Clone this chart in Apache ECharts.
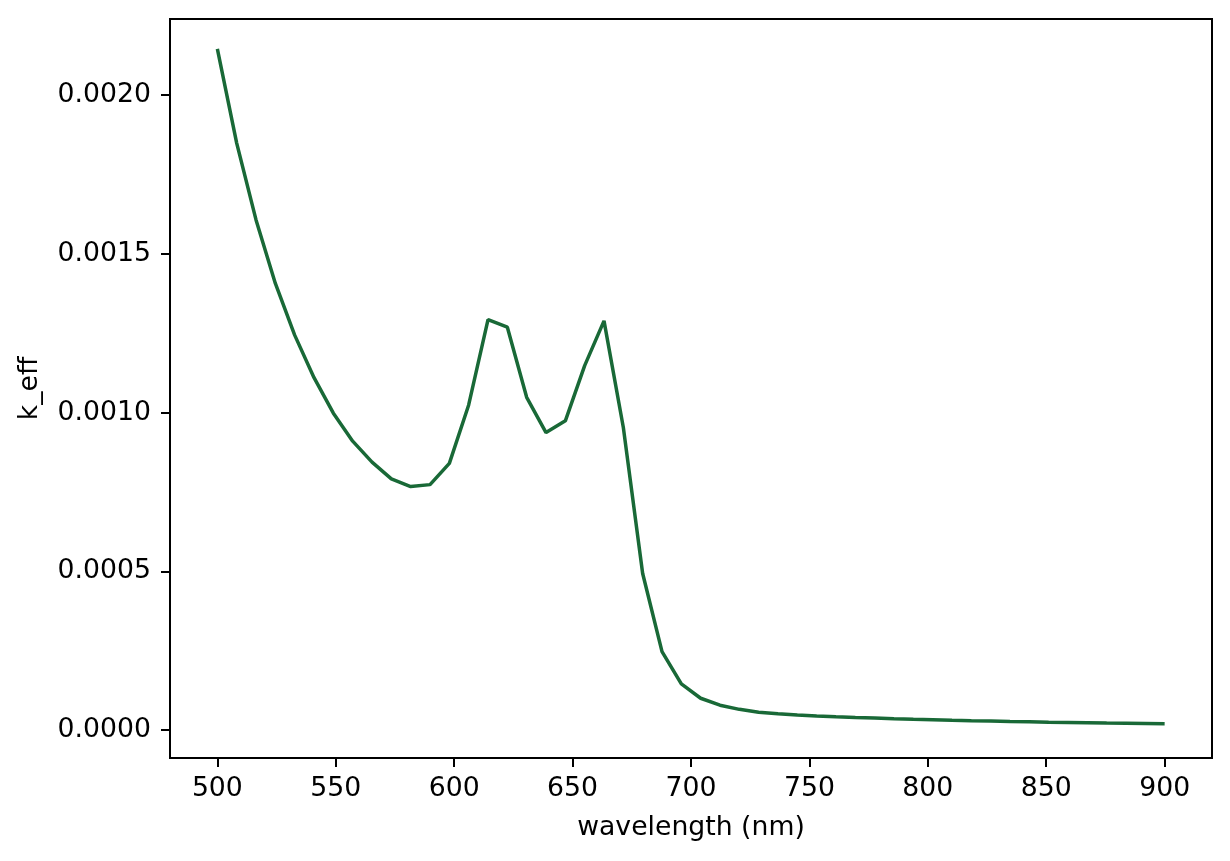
<!DOCTYPE html>
<html>
<head>
<meta charset="utf-8">
<title>k_eff</title>
<script src="https://cdn.jsdelivr.net/npm/echarts@6/dist/echarts.min.js"></script>
<style>
    html, body { margin: 0; padding: 0; background: #fff; }
    #chart { width: 1230px; height: 861px; }
</style>
</head>
<body>
<div id="chart"></div>
<script>
// wavelength samples (nm)
var wavelength = [
    500.00, 508.16, 516.33, 524.49, 532.65, 540.82, 548.98, 557.14, 565.31, 573.47,
    581.63, 589.80, 597.96, 606.12, 614.29, 622.45, 630.61, 638.78, 646.94, 655.10,
    663.27, 671.43, 679.59, 687.76, 695.92, 704.08, 712.24, 720.41, 728.57, 736.73,
    744.90, 753.06, 761.22, 769.39, 777.55, 785.71, 793.88, 802.04, 810.20, 818.37,
    826.53, 834.69, 842.86, 851.02, 859.18, 867.35, 875.51, 883.67, 891.84, 900.00
];

// k_eff
var kEff = [
    0.002146, 0.001849, 0.001607, 0.001407, 0.001244, 0.001110, 0.000998, 0.000910, 0.000844, 0.000791,
    0.000767, 0.000773, 0.000840, 0.001024, 0.001293, 0.001269, 0.001048, 0.000937, 0.000974, 0.001148,
    0.001289, 0.000953, 0.000493, 0.000247, 0.000145, 0.000100, 0.000078, 0.000065, 0.000056, 0.0000512,
    0.0000474, 0.0000444, 0.0000418, 0.0000395, 0.0000375, 0.0000356, 0.0000338, 0.0000322, 0.0000307, 0.0000293,
    0.0000280, 0.0000268, 0.0000257, 0.0000246, 0.0000236, 0.0000227, 0.0000218, 0.0000210, 0.0000202, 0.0000195
];

var xTicks = [500, 550, 600, 650, 700, 750, 800, 850, 900];
var yTicks = [0, 0.0005, 0.0010, 0.0015, 0.0020];

var points = wavelength.map(function (w, i) {
    return [w, kEff[i]];
});

var font = 'DejaVu Sans';
var fontSize = 26.7;

var option = {
    animation: false,
    backgroundColor: '#fff',
    grid: {
        left: 170,
        right: 18,
        top: 19,
        bottom: 103,
        show: true,
        borderColor: '#000',
        borderWidth: 2,
        backgroundColor: 'transparent'
    },
    xAxis: {
        type: 'value',
        min: 480,
        max: 920,
        name: 'wavelength (nm)',
        nameLocation: 'middle',
        nameGap: 57,
        nameTextStyle: { color: '#000', fontFamily: font, fontSize: fontSize },
        axisLine: { show: true, onZero: false, lineStyle: { color: '#000', width: 2 } },
        axisTick: {
            show: true,
            length: 9,
            lineStyle: { color: '#000', width: 2 },
            customValues: xTicks
        },
        axisLabel: {
            color: '#000',
            fontFamily: font,
            fontSize: fontSize,
            margin: 18,
            customValues: xTicks
        },
        splitLine: { show: false }
    },
    yAxis: {
        type: 'value',
        min: -0.0000883,
        max: 0.00224,
        name: 'k_eff',
        nameLocation: 'middle',
        nameGap: 126,
        nameRotate: 90,
        nameTextStyle: { color: '#000', fontFamily: font, fontSize: fontSize },
        axisLine: { show: true, onZero: false, lineStyle: { color: '#000', width: 2 } },
        axisTick: {
            show: true,
            length: 9,
            lineStyle: { color: '#000', width: 2 },
            customValues: yTicks
        },
        axisLabel: {
            color: '#000',
            fontFamily: font,
            fontSize: fontSize,
            margin: 19,
            customValues: yTicks,
            formatter: function (v) {
                return v.toFixed(4);
            }
        },
        splitLine: { show: false }
    },
    series: [
        {
            type: 'line',
            data: points,
            showSymbol: false,
            symbol: 'none',
            lineStyle: { color: '#196937', width: 3.5 },
            itemStyle: { color: '#196937' }
        }
    ]
};

var chart = echarts.init(document.getElementById('chart'));
chart.setOption(option);
</script>
</body>
</html>
